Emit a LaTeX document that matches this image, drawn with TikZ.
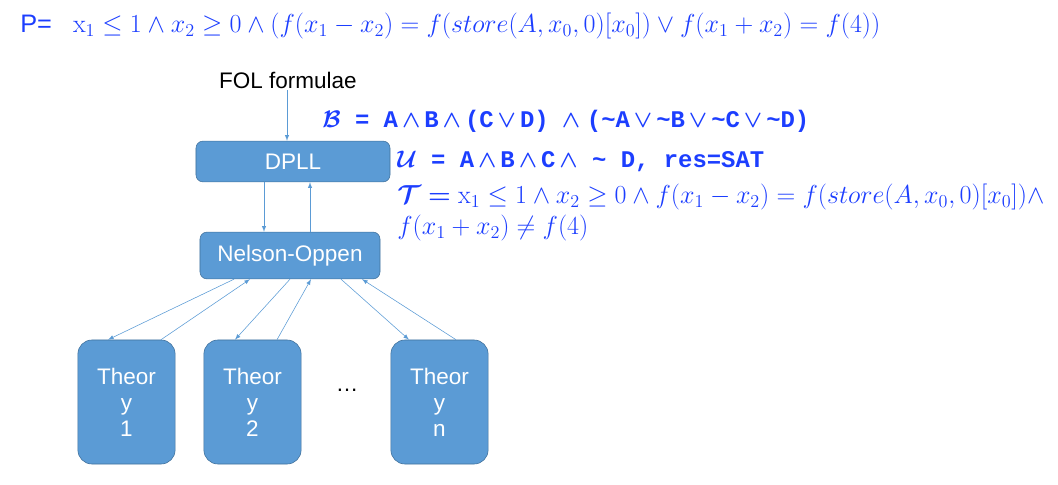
\RequirePackage{fix-cm}
\documentclass[tikz,border=0pt]{standalone}
\usepackage{amsmath}
\usepackage{amssymb}
\usepackage{bm}
\usepackage[no-math]{fontspec}
\setmainfont{Liberation Sans}
\setmonofont{Liberation Mono}
\usepackage{tikz}
\definecolor{boxblue}{RGB}{91,155,213}
\definecolor{boxedge}{RGB}{65,113,156}
\definecolor{formblue}{RGB}{28,62,255}
\tikzset{stepbox/.style={draw=boxedge, fill=boxblue, rounded corners=5pt, text=white, font=\fontsize{16}{18}\selectfont},
         theorybox/.style={stepbox, rounded corners=10pt, minimum width=2.43cm, minimum height=3.1cm, align=center, font=\fontsize{16}{18.5}\selectfont},
         link/.style={boxblue, -latex, thin},
         formula/.style={formblue, anchor=west, inner sep=0pt}}
\newcommand{\tb}[1]{\texttt{\bfseries #1}}

\begin{document}
\begin{tikzpicture}[x=0.025cm, y=-0.025cm]
    \useasboundingbox (0,0) rectangle (1058,485);

	\node[formula, font=\fontsize{18.5}{21}\selectfont] (p) at (20,26) {\fontsize{18}{20}\selectfont P=\ \ \ \fontsize{18.5}{21}\selectfont$\mathrm{x}_1 \le 1 \wedge x_2 \ge 0 \wedge (f(x_1 - x_2) = f(store(A, x_0, 0)[x_0]) \vee f(x_1 + x_2) = f(4))$};

	\node[font=\fontsize{16}{18}\selectfont, inner sep=1pt] (fol) at (288,80) {FOL formulae};

	\node[stepbox, minimum width=4.85cm, minimum height=1.02cm] (dpll) at (293,161.5) {DPLL};
	\node[stepbox, minimum width=4.5cm, minimum height=1.17cm] (no) at (290,255.5) {Nelson-Oppen};

	\node[theorybox] (t1) at (126.5,402) {Theor\\y\\1};
	\node[theorybox] (t2) at (252.5,402) {Theor\\y\\2};
	\node[theorybox] (tn) at (439.5,402) {Theor\\y\\n};
	\node[font=\fontsize{16}{18}\selectfont] (dots) at (347,390) {\dots};

	% formulas
	\node[formula, font=\fontsize{17}{19}\selectfont\bfseries] (bf) at (322,121) {$\bm{\mathcal{B}}$\tb{ = A}$\,\bm\wedge\,$\tb{B}$\,\bm\wedge\,$\tb{(C}$\,\bm\vee\,$\tb{D)} \ $\bm\wedge$ \tb{(\char`~A}$\,\bm\vee\,$\tb{\char`~B}$\,\bm\vee\,$\tb{\char`~C}$\,\bm\vee\,$\tb{\char`~D)}};
	\node[formula, font=\fontsize{17}{19}\selectfont\bfseries] (uf) at (397,161) {$\bm{\mathcal{U}}$\tb{ = A}$\,\bm\wedge\,$\tb{B}$\,\bm\wedge\,$\tb{C}$\,\bm\wedge$\tb{ \char`~\ D, res=SAT}};
	\node[formula, font=\fontsize{18.5}{21}\selectfont] (tf) at (397,197) {$\bm{\mathcal{T}}$ $\bm{=}$\ $\mathrm{x}_1 \le 1 \wedge x_2 \ge 0 \wedge f(x_1 - x_2) = f(store(A, x_0, 0)[x_0]) \wedge$};
	\node[formula, font=\fontsize{18.5}{21}\selectfont] (tf2) at (397,228) {$f(x_1 + x_2) \ne f(4)$};

	% arrows
	\draw[link] (fol.south -| 287,0) -- (dpll.north -| 287,0);
	\draw[link] (dpll.south -| 264,0) -- (no.north -| 264,0);
	\draw[link] (no.north -| 310,0) -- (dpll.south -| 310,0);

	\draw[link] (no.south -| 234,0) -- (t1.north -| 108,0);
	\draw[link] (t1.north -| 161,0) -- (no.south -| 250,0);
	\draw[link] (no.south -| 290,0) -- (t2.north -| 235,0);
	\draw[link] (t2.north -| 277,0) -- (no.south -| 311,0);
	\draw[link] (no.south -| 341,0) -- (tn.north -| 409,0);
	\draw[link] (tn.north -| 456,0) -- (no.south -| 362,0);

\end{tikzpicture}
\end{document}
